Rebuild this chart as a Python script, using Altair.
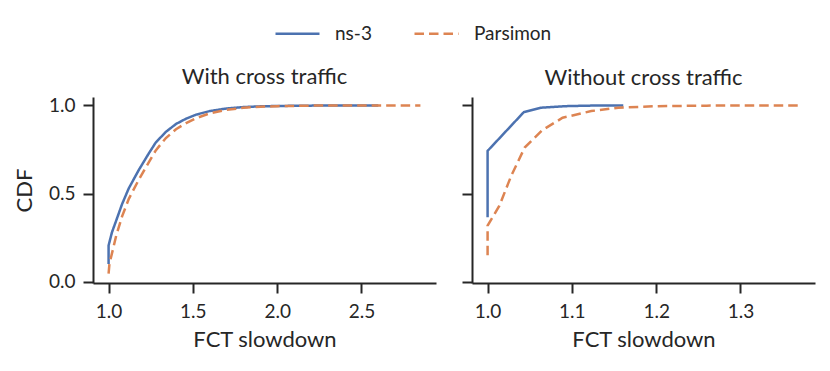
import altair as alt
import pandas as pd

SERIES = ["ns-3", "Parsimon"]
COLORS = ["#4c72b0", "#dd8452"]
PANELS = ["With cross traffic", "Without cross traffic"]

# With cross traffic
with_ns3_x = [1.0, 1.0, 1.02, 1.045, 1.08, 1.12, 1.18, 1.24, 1.28, 1.34, 1.40, 1.46, 1.52, 1.60, 1.70, 1.80, 1.90, 2.0, 2.2, 2.4, 2.6]
with_ns3_y = [0.10, 0.205, 0.28, 0.346, 0.44, 0.53, 0.635, 0.73, 0.79, 0.85, 0.895, 0.925, 0.948, 0.968, 0.983, 0.991, 0.995, 0.997, 0.999, 1.0, 1.0]
with_pars_x = [1.0, 1.005, 1.02, 1.045, 1.08, 1.12, 1.18, 1.24, 1.28, 1.34, 1.40, 1.46, 1.52, 1.60, 1.70, 1.80, 1.90, 2.0, 2.2, 2.5, 2.85]
with_pars_y = [0.045, 0.10, 0.16, 0.26, 0.37, 0.47, 0.58, 0.68, 0.745, 0.815, 0.865, 0.90, 0.928, 0.955, 0.975, 0.987, 0.993, 0.996, 0.999, 1.0, 1.0]

# Without cross traffic
without_ns3_x = [1.0, 1.0, 1.043, 1.063, 1.093, 1.12, 1.161]
without_ns3_y = [0.365, 0.742, 0.962, 0.987, 0.996, 0.999, 1.0]
without_pars_x = [1.0, 1.0, 1.014, 1.028, 1.044, 1.065, 1.089, 1.123, 1.155, 1.202, 1.26, 1.369]
without_pars_y = [0.149, 0.318, 0.431, 0.60, 0.761, 0.86, 0.93, 0.968, 0.987, 0.996, 0.999, 1.0]

x_ticks_with = [1.0, 1.5, 2.0, 2.5]
x_ticks_without = [1.0, 1.1, 1.2, 1.3]
y_ticks = [0.0, 0.5, 1.0]


def frame(xs, ys, name):
    return pd.DataFrame({"x": xs, "y": ys, "series": name, "i": list(range(len(xs)))})


df_with = pd.concat([frame(with_ns3_x, with_ns3_y, SERIES[0]),
                     frame(with_pars_x, with_pars_y, SERIES[1])])
df_without = pd.concat([frame(without_ns3_x, without_ns3_y, SERIES[0]),
                        frame(without_pars_x, without_pars_y, SERIES[1])])

FONT = "Lato"
INK = "#262626"

legend = alt.Legend(
    orient="none", legendX=181, legendY=-87, direction="horizontal", title=None,
    symbolType="stroke", symbolSize=1936, symbolStrokeWidth=2.5,
    labelFont=FONT, labelFontSize=19, labelColor=INK, labelOffset=14,
    columnPadding=37,
)

color = alt.Color("series:N", scale=alt.Scale(domain=SERIES, range=COLORS), legend=legend)
dash = alt.StrokeDash("series:N", scale=alt.Scale(domain=SERIES, range=[[1, 0], [9.5, 5]]), legend=legend)
y_scale = alt.Scale(domain=[-0.008, 1.048], nice=False, zero=False)


def panel(df, title, xdom, xticks, show_y):
    yaxis = alt.Axis(values=y_ticks, format=".1f", title="CDF" if show_y else None,
                     labels=show_y, titlePadding=12, labelPadding=8)
    xaxis = alt.Axis(values=xticks, format=".1f", title="FCT slowdown", labelPadding=9, titlePadding=8)
    return alt.Chart(df).mark_line(strokeWidth=2.5, clip=True).encode(
        x=alt.X("x:Q", scale=alt.Scale(domain=xdom, nice=False, zero=False), axis=xaxis),
        y=alt.Y("y:Q", scale=y_scale, axis=yaxis),
        color=color,
        strokeDash=dash,
        order="i:Q",
    ).properties(
        width=343, height=186,
        title=alt.TitleParams(title, font=FONT, fontSize=22, fontWeight="normal", color=INK, offset=7),
    )


left = panel(df_with, PANELS[0], [0.9075, 2.9425], x_ticks_with, True)
right = panel(df_without, PANELS[1], [0.9815, 1.3885], x_ticks_without, False)

chart = alt.hconcat(left, right, spacing=25).resolve_scale(
    x="independent", y="independent"
).configure_view(stroke=None).configure_axis(
    grid=False, domainColor=INK, domainWidth=2, tickColor=INK, tickWidth=2, tickSize=10,
    labelFont=FONT, labelFontSize=19, labelColor=INK,
    titleFont=FONT, titleFontSize=22, titleFontWeight="normal", titleColor=INK,
).properties(background="white", padding={"left": 5, "top": 2, "right": 5, "bottom": 5})

chart.save("out.html", embed_options={"renderer": "svg", "actions": False})
